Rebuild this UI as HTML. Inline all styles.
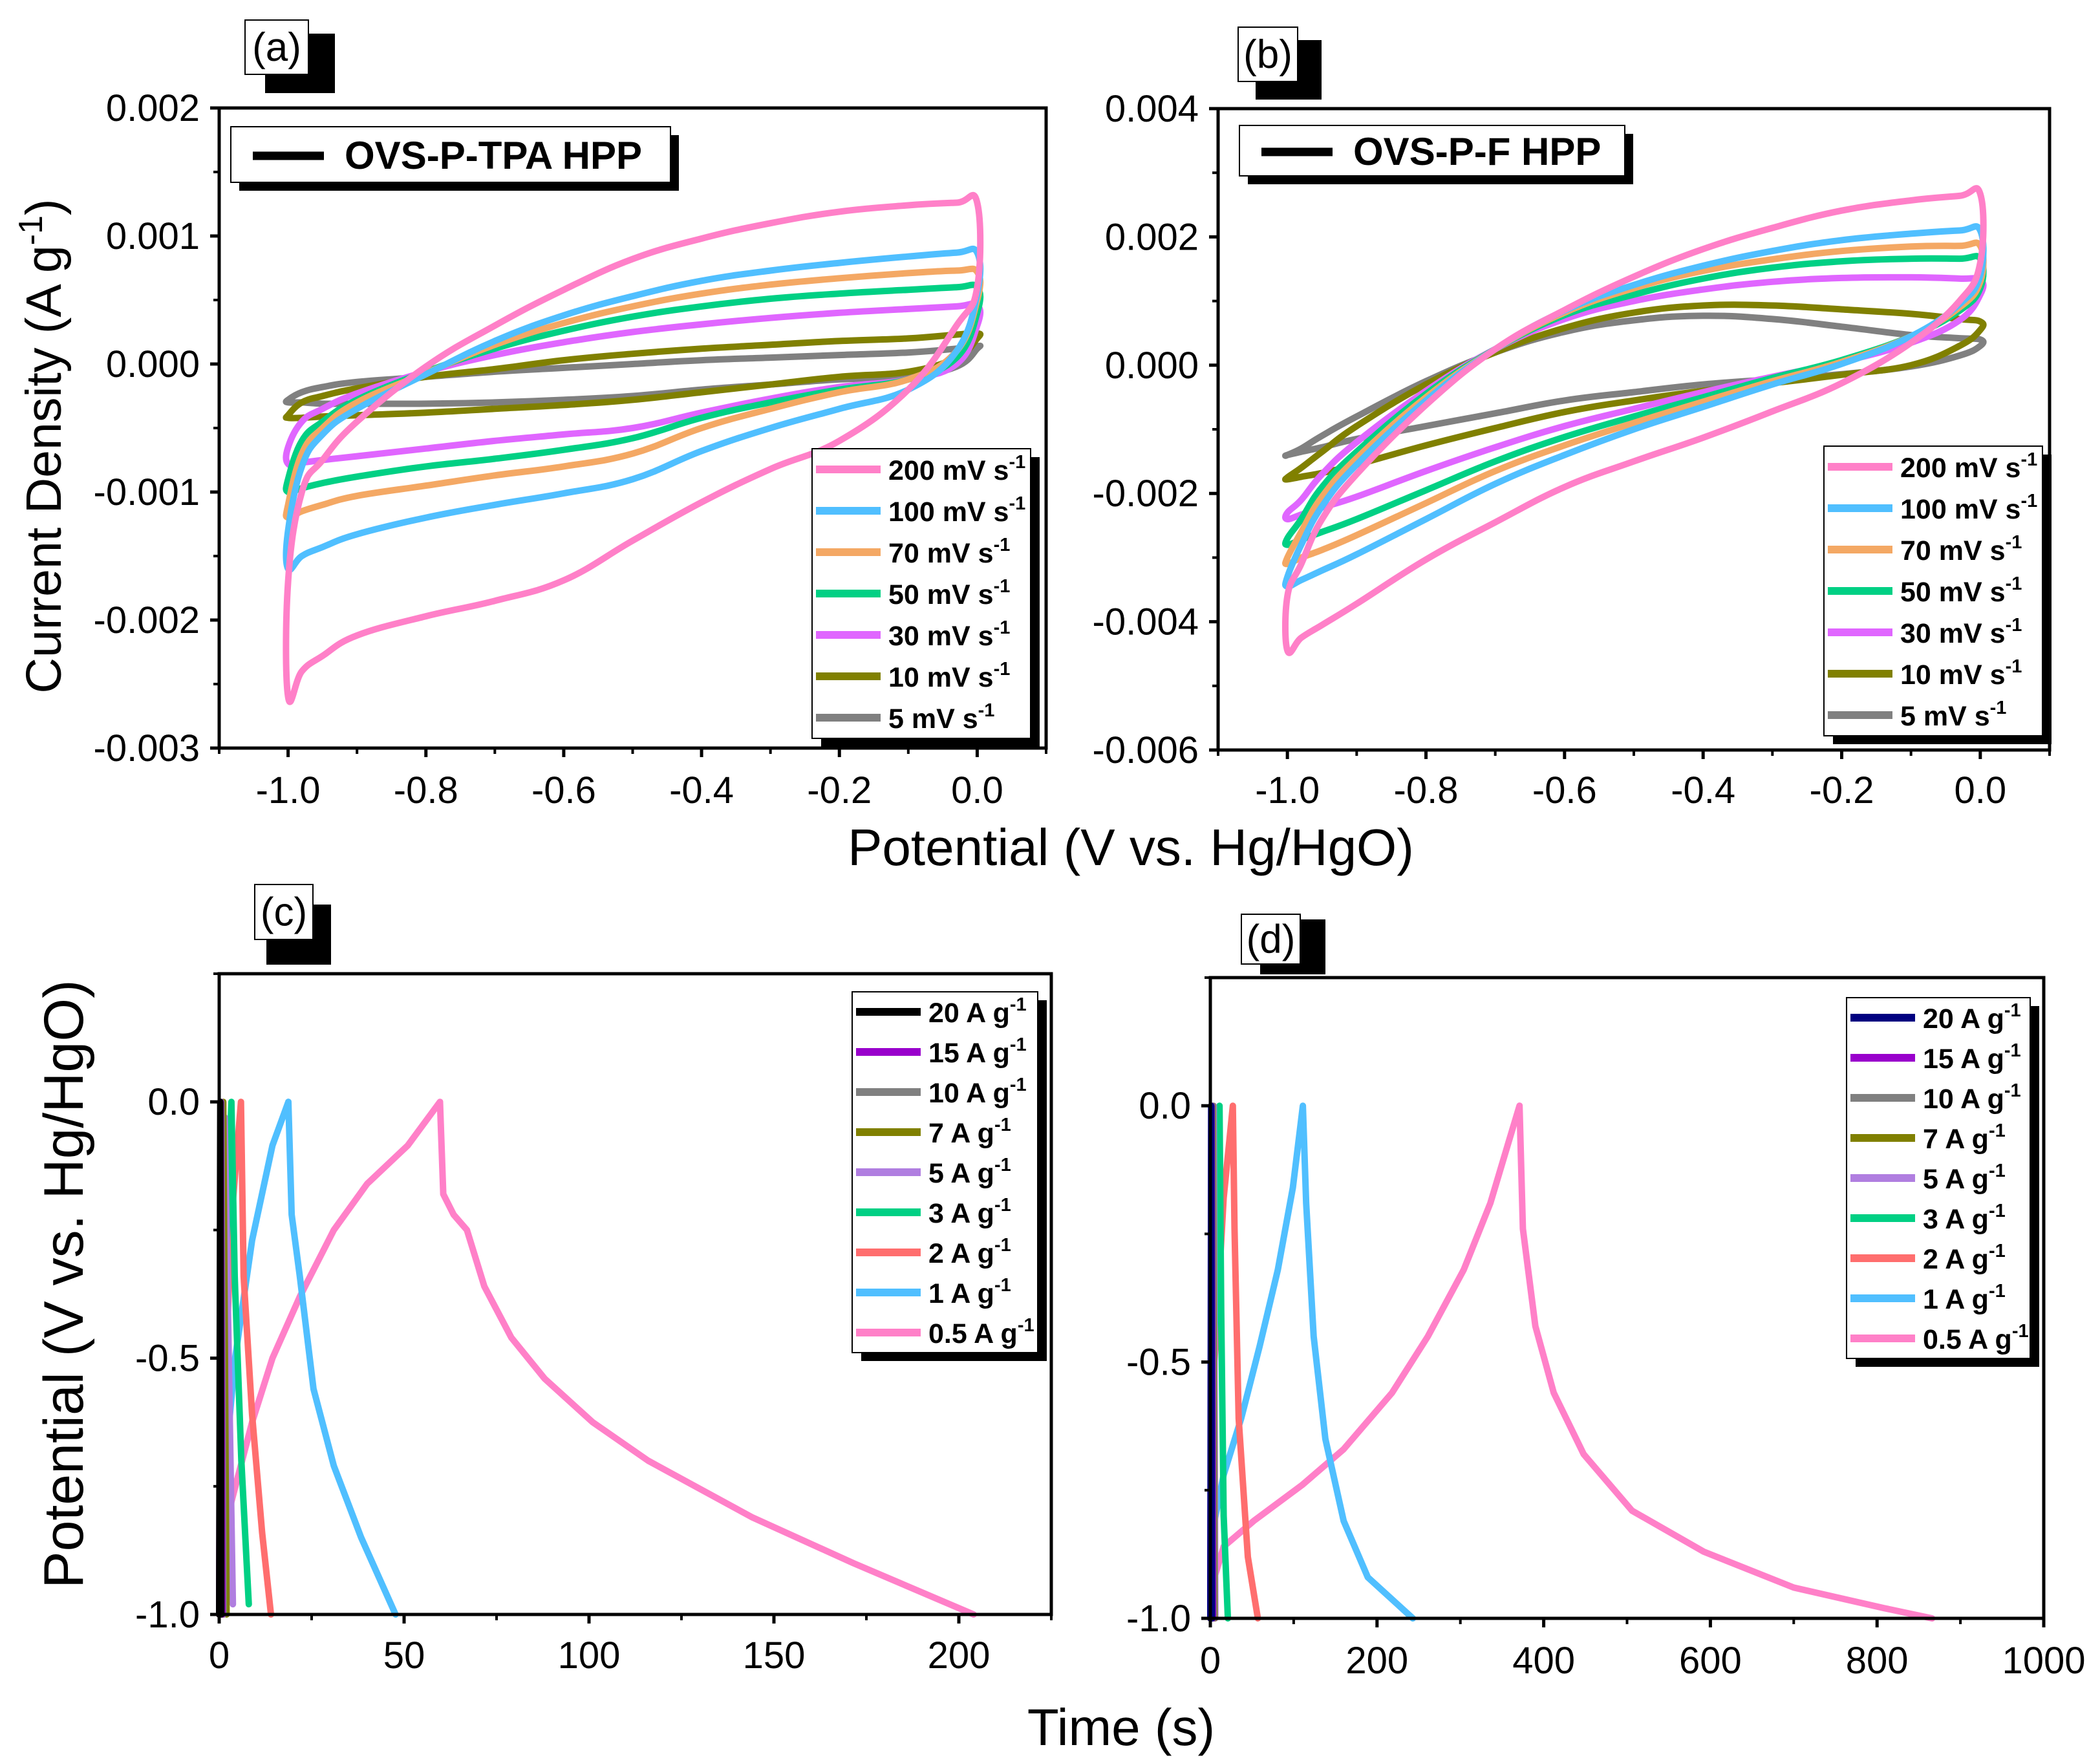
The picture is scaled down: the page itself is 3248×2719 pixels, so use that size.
<!DOCTYPE html>
<html><head><meta charset="utf-8"><style>
html,body{margin:0;padding:0;background:#fff;}
svg{display:block;font-family:"Liberation Sans",sans-serif;}
</style></head><body>
<svg id="fig" width="3248" height="2719" viewBox="0 0 3248 2719" xmlns="http://www.w3.org/2000/svg"></svg>
<script>
// ---------- DATA ----------
const cvGrid = [-1, -0.98, -0.95, -0.9, -0.8, -0.7, -0.6, -0.5, -0.4, -0.3, -0.2, -0.1, -0.03, 0];
const cvLabels = ["200", "100", "70", "50", "30", "10", "5"];
const cvColors = ["#ff80c8", "#50bfff", "#f4a864", "#00d084", "#e066ff", "#808000", "#808080"];
// panel a (units 1e-3 A g-1)
const a200f = [-1.7,-1.0,-0.75,-0.45,-0.02,0.3,0.58,0.82,0.98,1.1,1.19,1.24,1.26,1.26];
const a200r = [-2.6,-2.4,-2.28,-2.12,-1.97,-1.85,-1.69,-1.38,-1.08,-0.82,-0.6,-0.2,0.3,0.6];
const a100f = [-1.3,-0.8,-0.55,-0.35,-0.08,0.18,0.38,0.53,0.65,0.73,0.79,0.84,0.87,0.87];
const a100r = [-1.6,-1.5,-1.43,-1.33,-1.2,-1.1,-1.01,-0.9,-0.68,-0.5,-0.35,-0.2,0.1,0.55];
const a70f = [-1.1,-0.7,-0.5,-0.3,-0.07,0.15,0.32,0.45,0.55,0.62,0.67,0.71,0.73,0.72];
const a70r = [-1.2,-1.15,-1.1,-1.03,-0.95,-0.87,-0.8,-0.7,-0.5,-0.35,-0.22,-0.12,0.1,0.5];
const a50f = [-0.9,-0.6,-0.45,-0.28,-0.06,0.12,0.26,0.37,0.45,0.51,0.55,0.58,0.6,0.6];
const a50r = [-1.0,-0.97,-0.93,-0.88,-0.8,-0.74,-0.67,-0.58,-0.42,-0.3,-0.2,-0.12,0.05,0.4];
const a30f = [-0.65,-0.45,-0.35,-0.23,-0.06,0.07,0.17,0.25,0.31,0.36,0.4,0.43,0.45,0.46];
const a30r = [-0.78,-0.77,-0.75,-0.72,-0.66,-0.6,-0.55,-0.5,-0.38,-0.27,-0.18,-0.12,0.0,0.3];
const a10f = [-0.4,-0.3,-0.25,-0.19,-0.1,-0.04,0.03,0.08,0.12,0.15,0.18,0.2,0.23,0.24];
const a10r = [-0.42,-0.42,-0.41,-0.4,-0.38,-0.35,-0.32,-0.28,-0.22,-0.16,-0.1,-0.06,0.05,0.2];
const a5f = [-0.28,-0.22,-0.18,-0.14,-0.1,-0.06,-0.03,0.0,0.03,0.05,0.07,0.09,0.12,0.14];
const a5r = [-0.3,-0.3,-0.31,-0.31,-0.31,-0.3,-0.28,-0.25,-0.2,-0.16,-0.12,-0.1,-0.02,0.12];
// panel b
const b200f = [-3.6,-3.1,-2.4,-1.7,-0.62,0.25,0.86,1.38,1.81,2.14,2.41,2.57,2.64,2.67];
const b200r = [-4.45,-4.25,-4.05,-3.72,-3.03,-2.45,-1.9,-1.5,-1.13,-0.72,-0.28,0.35,1.0,1.6];
const b100f = [-3.3,-2.8,-2.2,-1.55,-0.55,0.25,0.85,1.25,1.55,1.78,1.95,2.05,2.1,2.1];
const b100r = [-3.45,-3.35,-3.2,-2.95,-2.4,-1.85,-1.4,-1.0,-0.65,-0.3,0.02,0.45,0.95,1.4];
const b70f = [-3.0,-2.6,-2.05,-1.45,-0.5,0.25,0.82,1.2,1.47,1.65,1.78,1.85,1.86,1.86];
const b70r = [-3.1,-3.0,-2.88,-2.65,-2.15,-1.65,-1.25,-0.9,-0.57,-0.25,0.05,0.45,0.9,1.3];
const b50f = [-2.7,-2.4,-1.9,-1.35,-0.45,0.25,0.78,1.1,1.35,1.52,1.62,1.66,1.66,1.66];
const b50r = [-2.8,-2.72,-2.6,-2.4,-1.95,-1.5,-1.12,-0.8,-0.5,-0.2,0.08,0.45,0.85,1.2];
const b30f = [-2.3,-2.1,-1.7,-1.2,-0.4,0.25,0.72,1.0,1.18,1.3,1.36,1.37,1.35,1.33];
const b30r = [-2.4,-2.33,-2.22,-2.05,-1.65,-1.28,-0.95,-0.68,-0.42,-0.18,0.05,0.35,0.7,1.1];
const b10f = [-1.75,-1.6,-1.35,-0.95,-0.3,0.2,0.58,0.82,0.93,0.93,0.87,0.8,0.72,0.68];
const b10r = [-1.78,-1.74,-1.68,-1.55,-1.25,-0.98,-0.73,-0.55,-0.4,-0.28,-0.15,0.0,0.3,0.55];
const b5f = [-1.4,-1.3,-1.1,-0.8,-0.25,0.2,0.52,0.7,0.77,0.72,0.6,0.47,0.42,0.4];
const b5r = [-1.4,-1.35,-1.28,-1.15,-0.95,-0.75,-0.55,-0.42,-0.3,-0.22,-0.14,-0.02,0.15,0.3];
// tick labels
const cvXTicks = [-1.0,-0.8,-0.6,-0.4,-0.2,0.0];
const aYTicks = [-3,-2,-1,0,1,2];
const aYLabels = ["-0.003","-0.002","-0.001","0.000","0.001","0.002"];
const bYTicks = [-6,-4,-2,0,2,4];
const bYLabels = ["-0.006","-0.004","-0.002","0.000","0.002","0.004"];

// GCD
const gcdLabels = ["20","15","10","7","5","3","2","1","0.5"];
const cColors = ["#000000","#9900cc","#808080","#808000","#b07ee0","#00d084","#ff6e6e","#50bfff","#ff80c8"];
const dColors = ["#000080","#9900cc","#808080","#808000","#b07ee0","#00d084","#ff6e6e","#50bfff","#ff80c8"];
// panel c
const c20t=[0,0.3,0.6]; const c20v=[-1,0,-1];
const c15t=[0,0.4,0.9]; const c15v=[-1,0,-1];
const c10t=[0,0.6,1.2]; const c10v=[-1,0,-1];
const c7t=[0,1.1,2.0]; const c7v=[-1,0,-1];
const c5t=[0,1.5,3.7]; const c5v=[-1,-0.03,-0.98];
const c3t=[0,1,3.3,4.2,6,8]; const c3v=[-1,-0.5,0,-0.34,-0.7,-0.98];
const c2t=[0,1,3.3,5.9,6.6,8.9,11.6,14]; const c2v=[-1,-0.67,-0.23,0,-0.34,-0.61,-0.84,-1];
const c1t=[0,1.5,4.3,8.9,14.4,18.7,19.6,21.8,25.5,31,38.4,47.7]; const c1v=[-1,-0.72,-0.5,-0.27,-0.085,0,-0.22,-0.34,-0.56,-0.71,-0.85,-1];
const c05t=[0,1,3.3,8.9,14.4,21.8,31,40,51,59.7,60.6,63.4,67,71.7,79,88,101,116,144,171.5,204];
const c05v=[-1,-0.9,-0.78,-0.625,-0.5,-0.38,-0.25,-0.16,-0.085,0,-0.18,-0.22,-0.25,-0.36,-0.46,-0.54,-0.625,-0.7,-0.81,-0.9,-1];
// panel d
const d20t=[0,1,2]; const d20v=[-1,0,-1];
const d15t=[0,1.5,3]; const d15v=[-1,0,-1];
const d10t=[0,2.5,4]; const d10v=[-1,0,-1];
const d7t=[0,3,5]; const d7v=[-1,0,-1];
const d5t=[0,4,6]; const d5v=[-1,0,-1];
const d3t=[0,3,11,13,16,21]; const d3v=[-1,-0.6,0,-0.4,-0.8,-1];
const d2t=[0,5,16,27,29,34,45,57]; const d2v=[-1,-0.5,-0.18,0,-0.24,-0.61,-0.88,-1];
const d1t=[0,5,16,37,59,81,99,111,115,124,138,160,189,243]; const d1v=[-1,-0.81,-0.72,-0.61,-0.47,-0.32,-0.16,0,-0.19,-0.45,-0.65,-0.81,-0.92,-1];
const d05t=[0,5,16,52,110,160,218,261,304,336,358,371,375,390,412,448,506,592,700,808,866];
const d05v=[-1,-0.92,-0.86,-0.81,-0.74,-0.67,-0.56,-0.45,-0.32,-0.19,-0.07,0,-0.24,-0.43,-0.56,-0.68,-0.79,-0.87,-0.94,-0.98,-1];
const gcdYTicks=[-1.0,-0.5,0.0];
const gcdYLabels=["-1.0","-0.5","0.0"];
const cXTicks=[0,50,100,150,200];
const dXTicks=[0,200,400,600,800,1000];

// ---------- DRAW ----------
const NS="http://www.w3.org/2000/svg";
const svg=document.getElementById('fig');
function el(tag,attrs,parent){const e=document.createElementNS(NS,tag);for(const k in attrs)e.setAttribute(k,attrs[k]);(parent||svg).appendChild(e);return e;}
function lin(d0,d1,p0,p1){return v=>p0+(v-d0)/(d1-d0)*(p1-p0);}
function smoothPath(P,closed){
  const n=P.length;let d='M'+P[0][0].toFixed(1)+','+P[0][1].toFixed(1);
  const get=i=>closed?P[(i+n)%n]:P[Math.max(0,Math.min(n-1,i))];
  const segs=closed?n:n-1;
  for(let i=0;i<segs;i++){
    const p0=get(i-1),p1=get(i),p2=get(i+1),p3=get(i+2);
    const k=0.2;
    const c1=[p1[0]+(p2[0]-p0[0])*k,p1[1]+(p2[1]-p0[1])*k];
    const c2=[p2[0]-(p3[0]-p1[0])*k,p2[1]-(p3[1]-p1[1])*k];
    d+=' C'+c1[0].toFixed(1)+','+c1[1].toFixed(1)+' '+c2[0].toFixed(1)+','+c2[1].toFixed(1)+' '+p2[0].toFixed(1)+','+p2[1].toFixed(1);
  }
  return d+(closed?' Z':'');
}

function frame(L,T,R,B){
  const r=el('rect',{x:L,y:T,width:R-L,height:B-T,fill:'none',stroke:'#000','stroke-width':5});
  
  
}
function xTicks(sx,B,majors,minors,labels,ly){
  majors.forEach((v,i)=>{
    const t=el('line',{x1:sx(v),x2:sx(v),y1:B,y2:B+14,stroke:'#000','stroke-width':5});
    
    
    const tx=el('text',{x:sx(v),y:ly,'font-size':58,'text-anchor':'middle'});
    tx.textContent=labels[i];
    
    
  });
  minors.forEach(v=>{
    const t=el('line',{x1:sx(v),x2:sx(v),y1:B,y2:B+9,stroke:'#000','stroke-width':4});
    
    
  });
}
function yTicks(sy,L,majors,minors,labels){
  majors.forEach((v,i)=>{
    const t=el('line',{x1:L-14,x2:L,y1:sy(v),y2:sy(v),stroke:'#000','stroke-width':5});
    
    
    const tx=el('text',{x:L-30,y:sy(v)+20,'font-size':58,'text-anchor':'end'});
    tx.textContent=labels[i];
    
    
  });
  minors.forEach(v=>{
    const t=el('line',{x1:L-9,x2:L,y1:sy(v),y2:sy(v),stroke:'#000','stroke-width':4});
    
    
  });
}
function panelLabel(txt,bx,by,bw,bh,sx,sy){
  const s=el('rect',{x:sx,y:sy,width:bw+10,height:bh+8,fill:'#000'});
  
  
  const r=el('rect',{x:bx,y:by,width:bw,height:bh,fill:'#fff',stroke:'#000','stroke-width':2});
  
  
  const t=el('text',{x:bx+bw/2,y:by+bh/2+21,'font-size':62,'text-anchor':'middle'});
  t.textContent=txt;
  
  
}
function sampleLegend(txt,x,y,w,h){
  const s=el('rect',{x:x+13,y:y+13,width:w,height:h,fill:'#000'});
  
  
  const r=el('rect',{x:x,y:y,width:w,height:h,fill:'#fff',stroke:'#000','stroke-width':2});
  
  
  const l=el('line',{x1:x+34,x2:x+144,y1:y+h/2+2,y2:y+h/2+2,stroke:'#000','stroke-width':13});
  
  
  const t=el('text',{x:x+176,y:y+h/2+22,'font-size':60,'font-weight':'bold'});
  t.textContent=txt;
  
  
}
function seriesLegend(x,y,w,rows,step,labels,colors,unit,name){
  const h=rows*step;
  const s=el('rect',{x:x+14,y:y+13,width:w,height:h,fill:'#000'});
  
  
  const r=el('rect',{x:x,y:y,width:w,height:h,fill:'#fff',stroke:'#000','stroke-width':2});
  
  
  labels.forEach((lb,i)=>{
    const cy=y+step*(i+0.5);
    const l=el('line',{x1:x+6,x2:x+106,y1:cy,y2:cy,stroke:colors[i],'stroke-width':12});
    
    
    const t=el('text',{x:x+118,y:cy+16,'font-size':43,'font-weight':'bold'});
    t.textContent=lb+unit;
    const sp=el('tspan',{dy:-18,'font-size':29});
    sp.textContent='-1';
    t.appendChild(sp);
    
    
  });
}
function cvLoop(sx,sy,f,r,color){
  const pts=[];
  cvGrid.forEach((x,i)=>pts.push([sx(x),sy(f[i])]));
  for(let i=cvGrid.length-1;i>=0;i--)pts.push([sx(cvGrid[i]),sy(r[i])]);
  return el('path',{d:smoothPath(pts,true),fill:'none',stroke:color,'stroke-width':10,'stroke-linejoin':'round'});
}
function gcdLine(sx,sy,t,v,color){
  const pts=t.map((tt,i)=>sx(tt).toFixed(1)+','+sy(v[i]).toFixed(1));
  return el('polyline',{points:pts.join(' '),fill:'none',stroke:color,'stroke-width':10,'stroke-linejoin':'round','stroke-linecap':'round'});
}

// Panel A
(function(){
  const L=339,R=1618,T=167,B=1157;
  const sx=lin(-1.1,0.1,L,R), sy=lin(-3,2,B,T);
  panelLabel('(a)',379,31,98,84,410,52);
  const fs=[a200f,a100f,a70f,a50f,a30f,a10f,a5f], rs=[a200r,a100r,a70r,a50r,a30r,a10r,a5r];
  for(let i=fs.length-1;i>=0;i--){
    const p=cvLoop(sx,sy,fs[i],rs[i],cvColors[i]);
    
    
  }
  frame(L,T,R,B);
  xTicks(sx,B,cvXTicks,[-1.1,-0.9,-0.7,-0.5,-0.3,-0.1,0.1],["-1.0","-0.8","-0.6","-0.4","-0.2","0.0"],1242);
  yTicks(sy,L,aYTicks,[-2.5,-1.5,-0.5,0.5,1.5],aYLabels);
  sampleLegend('OVS-P-TPA HPP',357,196,680,86);
  seriesLegend(1256,694,338,7,64,cvLabels,cvColors,' mV s','legend-a');
})();
// Panel B
(function(){
  const L=1884,R=3170,T=168,B=1160;
  const sx=lin(-1.1,0.1,L,R), sy=lin(-6,4,B,T);
  panelLabel('(b)',1915,42,92,84,1942,62);
  const fs=[b200f,b100f,b70f,b50f,b30f,b10f,b5f], rs=[b200r,b100r,b70r,b50r,b30r,b10r,b5r];
  for(let i=fs.length-1;i>=0;i--){
    const p=cvLoop(sx,sy,fs[i],rs[i],cvColors[i]);
    
    
  }
  frame(L,T,R,B);
  xTicks(sx,B,cvXTicks,[-1.1,-0.9,-0.7,-0.5,-0.3,-0.1,0.1],["-1.0","-0.8","-0.6","-0.4","-0.2","0.0"],1242);
  yTicks(sy,L,bYTicks,[-5,-3,-1,1,3],bYLabels);
  sampleLegend('OVS-P-F HPP',1917,194,596,78);
  seriesLegend(2821,690,338,7,64,cvLabels,cvColors,' mV s','legend-b');
})();
// Panel C
(function(){
  const L=339,R=1626,T=1506,B=2497;
  const sx=lin(0,225,L,R), sy=lin(-1,0.25,B,T);
  panelLabel('(c)',394,1368,90,85,412,1399);
  const ts=[c20t,c15t,c10t,c7t,c5t,c3t,c2t,c1t,c05t], vs=[c20v,c15v,c10v,c7v,c5v,c3v,c2v,c1v,c05v];
  for(let i=ts.length-1;i>=0;i--){
    const p=gcdLine(sx,sy,ts[i],vs[i],cColors[i]);
    
    
  }
  frame(L,T,R,B);
  xTicks(sx,B,cXTicks,[25,75,125,175,225],cXTicks.map(String),2580);
  yTicks(sy,L,gcdYTicks,[-0.75,-0.25,0.25],gcdYLabels);
  seriesLegend(1318,1534,287,9,62,gcdLabels,cColors,' A g','legend-c');
})();
// Panel D
(function(){
  const L=1872,R=3161,T=1512,B=2503;
  const sx=lin(0,1000,L,R), sy=lin(-1,0.25,B,T);
  panelLabel('(d)',1920,1414,91,77,1949,1422);
  const ts=[d20t,d15t,d10t,d7t,d5t,d3t,d2t,d1t,d05t], vs=[d20v,d15v,d10v,d7v,d5v,d3v,d2v,d1v,d05v];
  for(let i=ts.length-1;i>=0;i--){
    const p=gcdLine(sx,sy,ts[i],vs[i],dColors[i]);
    
    
  }
  frame(L,T,R,B);
  xTicks(sx,B,dXTicks,[100,300,500,700,900],dXTicks.map(String),2588);
  yTicks(sy,L,gcdYTicks,[-0.75,-0.25,0.25],gcdYLabels);
  seriesLegend(2856,1543,284,9,62,gcdLabels,dColors,' A g','legend-d');
})();

// Axis titles
let t=el('text',{x:0,y:0,'font-size':77,'text-anchor':'middle',transform:'translate(94,690) rotate(-90)'});
t.textContent='Current Density (A g';
let sp=el('tspan',{dy:-29,'font-size':52});sp.textContent='-1';t.appendChild(sp);
let sp2=el('tspan',{dy:29});sp2.textContent=')';t.appendChild(sp2);


t=el('text',{x:1749,y:1338,'font-size':80,'text-anchor':'middle'});
t.textContent='Potential (V vs. Hg/HgO)';


t=el('text',{x:0,y:0,'font-size':86,'text-anchor':'middle',transform:'translate(128,1986) rotate(-90)'});
t.textContent='Potential (V vs. Hg/HgO)';


t=el('text',{x:1734,y:2699,'font-size':80,'text-anchor':'middle'});
t.textContent='Time (s)';


</script>
</body></html>
